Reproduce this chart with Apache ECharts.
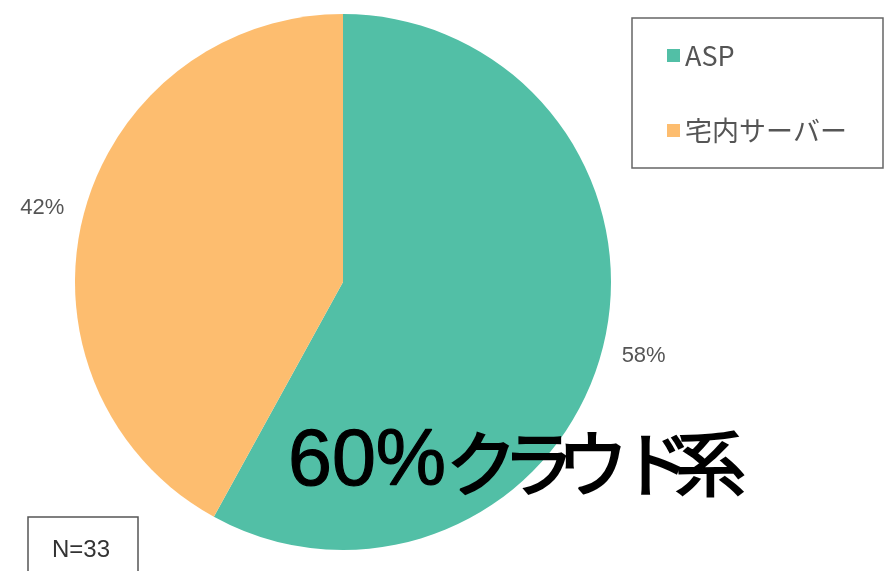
<!DOCTYPE html>
<html>
<head>
<meta charset="utf-8">
<script src="https://cdn.jsdelivr.net/npm/echarts@6/dist/echarts.min.js"></script>
<style>
html,body{margin:0;padding:0;background:#fff;}
#c{width:888px;height:571px;}
</style>
</head>
<body>
<div id="c"></div>
<script>
const categories = ['ASP', '宅内サーバー'];
const values = [58, 42];
const colors = ['#52BFA6', '#FDBD6F'];
const sampleNote = 'N=33';
const headlineNum = '60%';
const headlineWord = ['ク', 'ラ', 'ウ', 'ド', '系'];

const kanaWidths = [57, 54, 64, 54, 60];
const rich = {
  n: {fontFamily: 'Liberation Sans', fontSize: 79, fontWeight: 'normal', color: '#000', textBorderColor: '#000', textBorderWidth: 1.2, lineHeight: 80, verticalAlign: 'middle', width: 158}
};
kanaWidths.forEach((w, i) => {
  rich['k' + i] = {fontFamily: 'Noto Sans CJK JP', fontSize: 71, fontWeight: 'normal', color: '#000', textBorderColor: '#000', textBorderWidth: 2, lineHeight: 80, verticalAlign: 'middle', width: w};
});

const chart = echarts.init(document.getElementById('c'), null, {renderer: 'canvas'});
chart.setOption({
  animation: false,
  backgroundColor: '#ffffff',
  color: colors,
  title: [
    {
      text: sampleNote,
      left: 28, top: 517,
      padding: [21, 28, 40, 24],
      borderColor: '#555', borderWidth: 1.5,
      textStyle: {fontFamily: 'Liberation Sans', fontSize: 24, fontWeight: 'normal', color: '#333'}
    },
    {
      text: '{n|' + headlineNum + '}' + headlineWord.map((c, i) => '{k' + i + '|' + c + '}').join(''),
      left: 288, top: 423,
      padding: 0,
      textStyle: {rich: rich}
    }
  ],
  legend: {
    orient: 'vertical',
    left: 632, top: 18,
    padding: [24, 36, 24, 35],
    borderColor: '#666', borderWidth: 1.5,
    itemWidth: 13, itemHeight: 13, itemGap: 48,
    icon: 'rect',
    textStyle: {fontFamily: 'Noto Sans CJK JP', fontSize: 27, color: '#555'},
    data: categories
  },
  series: [{
    type: 'pie',
    center: [343, 282],
    radius: 268,
    startAngle: 90,
    clockwise: true,
    avoidLabelOverlap: false,
    label: {
      show: true, position: 'outside',
      formatter: '{d}%',
      distanceToLabelLine: -10,
      fontFamily: 'Liberation Sans', fontSize: 22, color: '#555'
    },
    labelLine: {show: false, length: 30, length2: 0},
    itemStyle: {borderWidth: 0},
    emphasis: {disabled: true},
    data: categories.map((n, i) => ({name: n, value: values[i]}))
  }]
});
</script>
</body>
</html>
